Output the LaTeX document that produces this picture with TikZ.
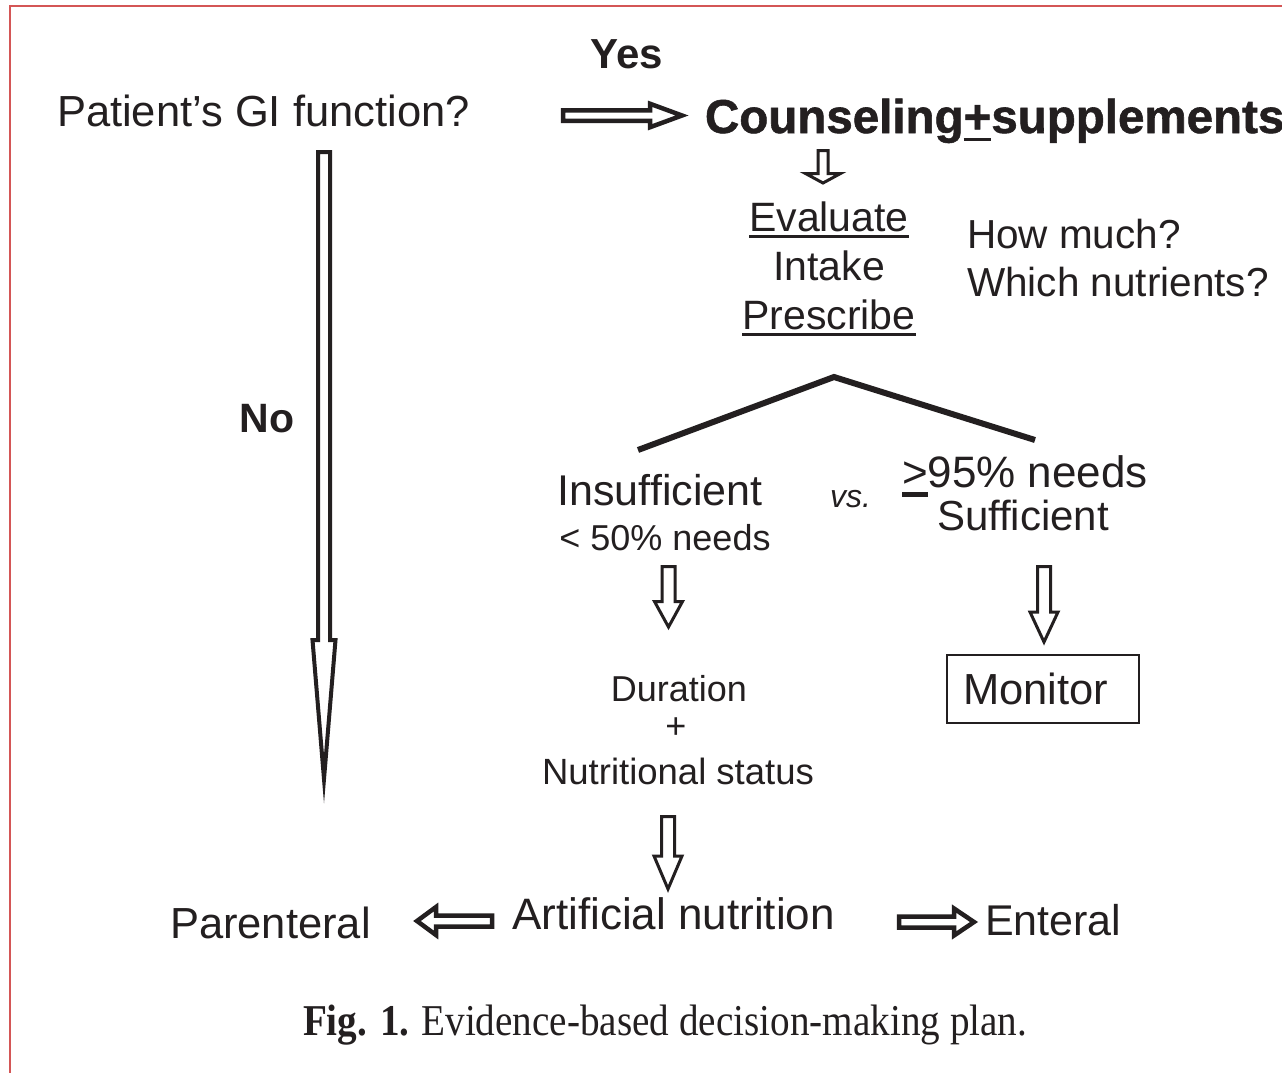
\documentclass[tikz,border=0pt]{standalone}
\usepackage{fontspec}
\setmainfont{Liberation Sans}
\newfontfamily\capfont[FakeStretch=0.89]{Liberation Serif}
\newfontfamily\heavyfont[FakeBold=1.2]{Liberation Sans Bold}
\definecolor{ink}{RGB}{35,31,32}
\definecolor{framered}{RGB}{212,86,86}
\newcommand\fs[1]{\fontsize{#1}{#1}\selectfont}
% underline: #1 gap below baseline, #2 thickness, #3 text
\newcommand\myul[3]{\begingroup\setbox0\hbox{#3}\rlap{\rule[-\dimexpr#1+#2\relax]{\wd0}{#2}}\box0\endgroup}
\begin{document}
\begin{tikzpicture}[x=1pt,y=-1pt,
  every node/.style={inner sep=0pt, outer sep=0pt, text=ink},
  lbl/.style={font=\fs{#1}},
  blbl/.style={font=\fs{#1}\bfseries},
  blockline/.style={draw=ink, fill=white, line join=miter, miter limit=30},
  pics/barrow/.style n args={5}{code={%
    \draw[blockline, line width=#5pt] (0,-#2) -- ({#1-#4},-#2) -- ({#1-#4},-#3) -- (#1,0)
      -- ({#1-#4},#3) -- ({#1-#4},#2) -- (0,#2) -- cycle;}}
]
\useasboundingbox (0,0) rectangle (1282,1073);
\fill[white] (0,0) rectangle (1282,1073);
% frame
\draw[framered, line width=2pt] (10,1073) -- (10,6) -- (1282,6);

% texts
\node[lbl=43.5, anchor=base west] (gi) at (57,126) {Patient’s GI function?};
\node[blbl=42, anchor=base] (yes) at (627,69) {Yes};
\node[font=\fs{47.5}\heavyfont, anchor=base west] (couns) at (705,133) {Counseling\myul{5pt}{3pt}{+}supplements};
\node[lbl=41, anchor=base] (eval) at (829,231) {\myul{4pt}{2.5pt}{Evaluate}};
\node[lbl=41, anchor=base] (intake) at (829,280) {Intake};
\node[lbl=41, anchor=base] (presc) at (829,329) {\myul{4pt}{2.5pt}{Prescribe}};
\node[lbl=40.5, anchor=base west] (how) at (967,248) {How much?};
\node[lbl=40.5, anchor=base west] (which) at (967,296) {Which nutrients?};
\node[blbl=41, anchor=base] (no) at (267,432) {No};
\node[lbl=43, anchor=base] (insuf) at (660,505) {Insufficient};
\node[lbl=36, anchor=base] (lt50) at (665,550) {< 50\% needs};
\node[lbl=32, anchor=base west] (vs) at (830,507) {\itshape vs.};
\node[lbl=44, anchor=base west] (ge95) at (902,487) {\myul{5pt}{4.5pt}{>}95\% needs};
\node[lbl=42, anchor=base west] (suf) at (937,530) {Sufficient};
\node[draw=ink, line width=1.5pt, minimum width=192pt, minimum height=68pt] (monbox) at (1043,689) {};
\node[lbl=43.5, anchor=base west] (monitor) at (963,704) {Monitor};
\node[lbl=36, anchor=base] (dur) at (679,701) {Duration};
\node[lbl=36, anchor=base] (plus) at (676,738) {+};
\node[lbl=36.5, anchor=base] (nutst) at (678,784) {Nutritional status};
\node[lbl=44, anchor=base west] (art) at (512,929) {Artificial nutrition};
\node[lbl=43.5, anchor=base west] (par) at (170,938) {Parenteral};
\node[lbl=43, anchor=base west] (ent) at (985,935) {Enteral};
\node[anchor=base west, font=\capfont\fs{44}] (cap) at (303,1035) {\textbf{Fig. 1.}\hskip 12pt Evidence-based decision-making plan.};

% tree
\coordinate (tl) at (638,450);
\coordinate (apex) at (834,377);
\coordinate (tr) at (1035,440);
\draw[ink, line width=6pt, line join=miter] (tl) -- (apex) -- (tr);

% block arrows
\pic[rotate=0] at (563,115.5) {barrow={119}{5.25}{11.75}{32}{4.5}};        % yes
\pic[rotate=-90] at (324,152) {barrow={627}{6}{11.5}{139}{4}};             % no
\pic[rotate=-90] at (823,150.5) {barrow={32.5}{5}{17.5}{9.5}{3}};          % counseling -> evaluate
\pic[rotate=-90] at (668.5,566.5) {barrow={60.5}{6.5}{14}{25.5}{3}};       % insufficient
\pic[rotate=-90] at (1044,566.5) {barrow={75.5}{6.5}{14}{30}{3}};          % sufficient
\pic[rotate=-90] at (668,816.5) {barrow={72.5}{6.5}{14}{33}{3}};           % nutritional -> artificial
\pic[rotate=180] at (492,921) {barrow={75}{5.5}{14}{19}{4.5}};             % parenteral
\pic[rotate=0] at (899,922) {barrow={75}{5.5}{13.5}{20}{4.5}};             % enteral
\end{tikzpicture}
\end{document}
